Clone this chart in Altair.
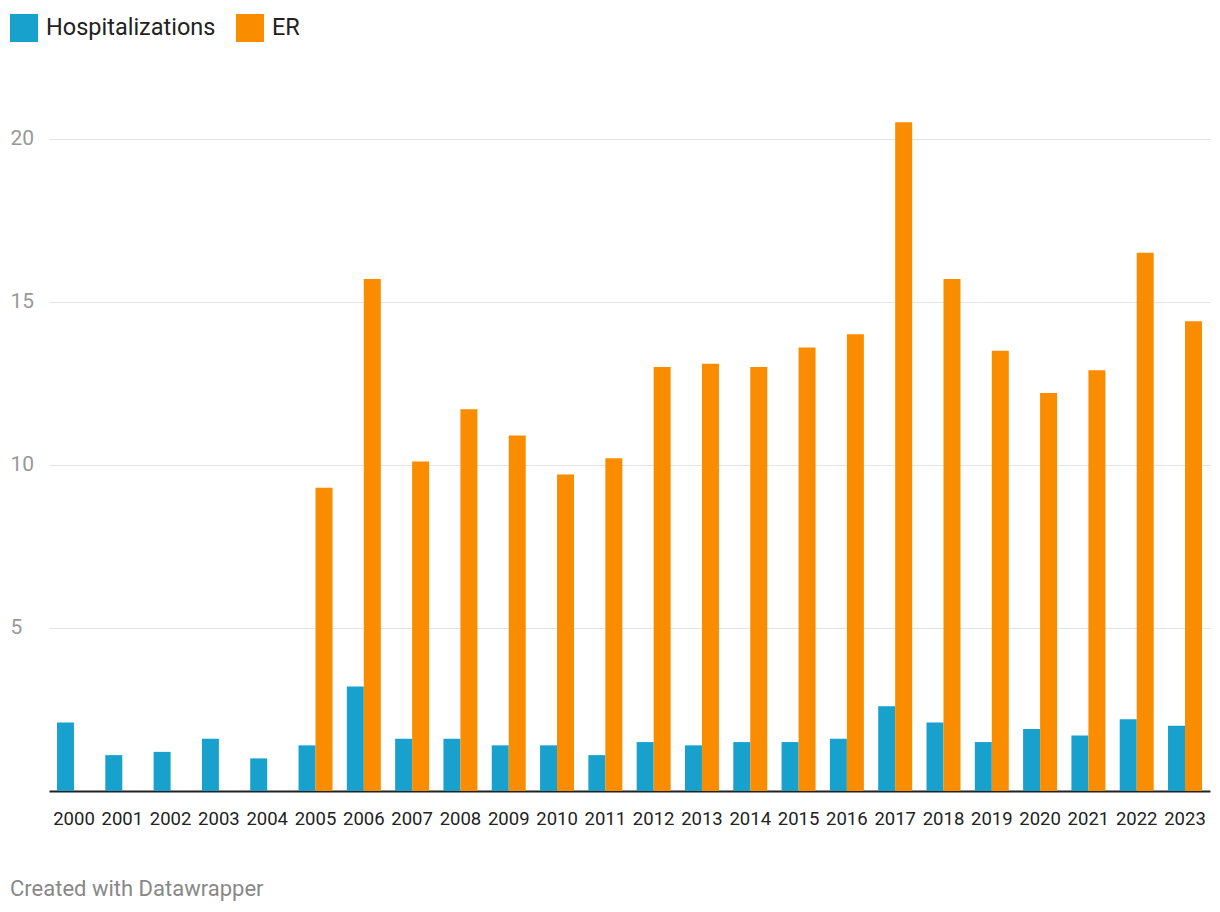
import altair as alt
import pandas as pd

years = [str(y) for y in range(2000, 2024)]
hospitalizations = [2.1, 1.1, 1.2, 1.6, 1.0, 1.4, 3.2, 1.6, 1.6, 1.4, 1.4, 1.1,
                    1.5, 1.4, 1.5, 1.5, 1.6, 2.6, 2.1, 1.5, 1.9, 1.7, 2.2, 2.0]
er = [None, None, None, None, None, 9.3, 15.7, 10.1, 11.7, 10.9, 9.7, 10.2,
      13.0, 13.1, 13.0, 13.6, 14.0, 20.5, 15.7, 13.5, 12.2, 12.9, 16.5, 14.4]
series = ["Hospitalizations", "ER"]
colors = ["#18a1cd", "#fa8c00"]
y_ticks = [5, 10, 15, 20]

rows = []
for i, y in enumerate(years):
    rows.append({"year": y, "series": "Hospitalizations", "value": hospitalizations[i]})
    if er[i] is not None:
        rows.append({"year": y, "series": "ER", "value": er[i]})
df = pd.DataFrame(rows)

FONT = "Roboto"

bars = alt.Chart(df).mark_bar().encode(
    x=alt.X("year:N", sort=years,
            scale=alt.Scale(paddingInner=0.2966, paddingOuter=0.1655),
            axis=alt.Axis(title=None, labelAngle=0, labelFontSize=18.5, labelColor="#222222",
                          labelFont=FONT, ticks=False, domainColor="#222222", domainWidth=2,
                          labelPadding=18, grid=False)),
    xOffset=alt.XOffset("series:N", sort=series,
                        scale=alt.Scale(domain=series, paddingInner=0, paddingOuter=0)),
    y=alt.Y("value:Q", scale=alt.Scale(domain=[0, 21], nice=False),
            axis=alt.Axis(title=None, values=y_ticks, labelFontSize=21, labelColor="#999999",
                          labelFont=FONT, ticks=False, domain=False, labelAlign="left",
                          labelPadding=39, gridColor="#e3e3e3", gridWidth=1)),
    color=alt.Color("series:N", sort=series,
                    scale=alt.Scale(domain=series, range=colors),
                    legend=alt.Legend(title=None, orient="none", direction="horizontal",
                                      legendX=-39, legendY=-92, symbolType="square",
                                      symbolSize=784, symbolStrokeWidth=0, symbolOpacity=1,
                                      labelFontSize=23.5, labelFont=FONT, labelColor="#222222",
                                      labelLimit=400, labelOffset=8, columnPadding=20,
                                      padding=0)),
)

footer = alt.Chart(pd.DataFrame({"t": ["Created with Datawrapper"]})).mark_text(
    align="left", baseline="middle", fontSize=22, font=FONT, color="#888888"
).encode(text="t:N", x=alt.value(-39), y=alt.value(783))

chart = alt.layer(bars, footer).properties(
    width=1161, height=685,
    autosize=alt.AutoSizeParams(type="none"),
    padding={"left": 41, "top": 98, "right": 2, "bottom": 112},
).configure(background="white").configure_view(strokeWidth=0, stroke="transparent")

chart.save("out.html", embed_options={"renderer": "svg", "actions": False})
